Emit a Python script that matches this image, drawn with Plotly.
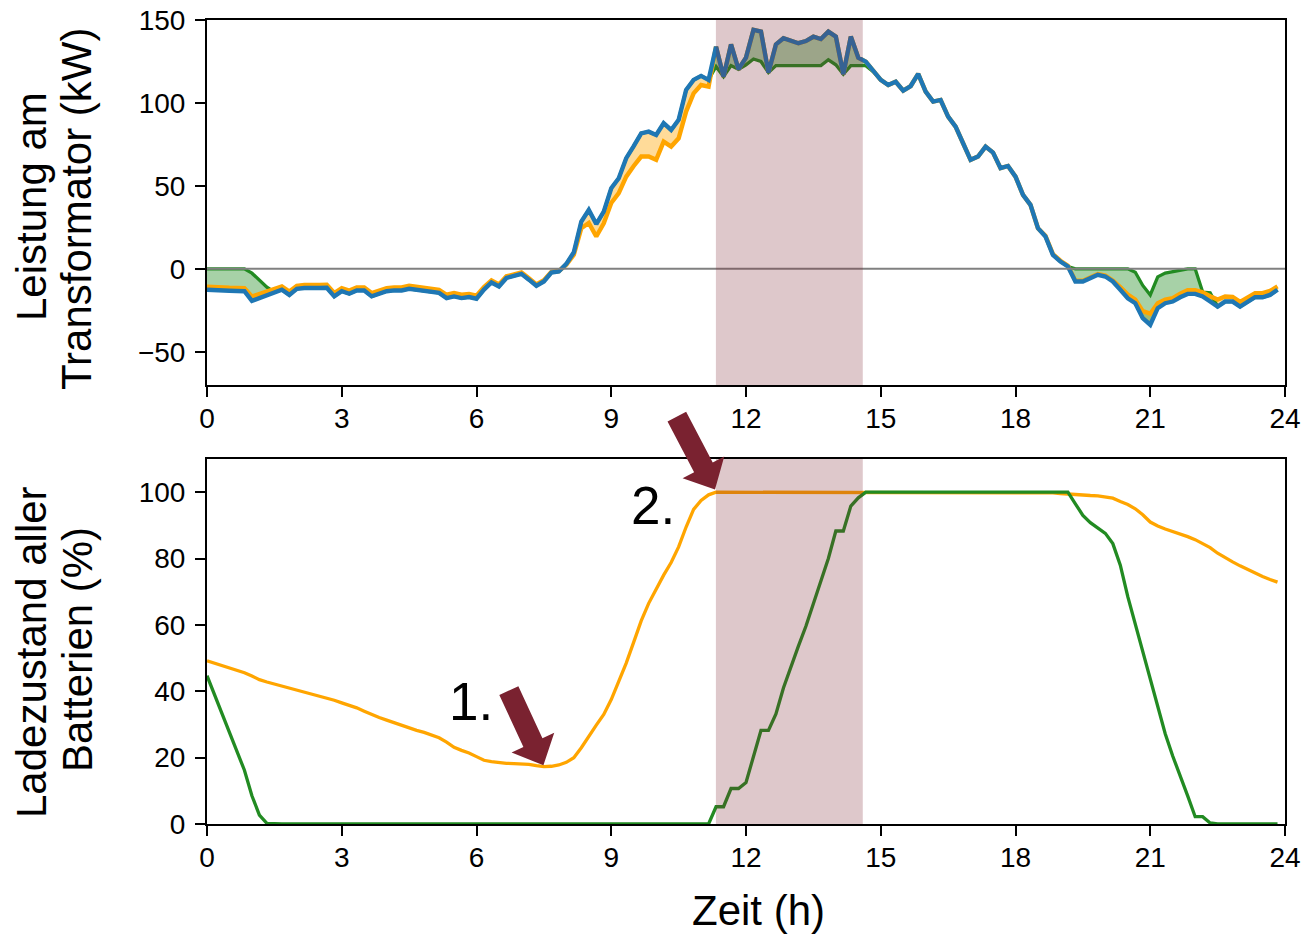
import math
import plotly.graph_objects as go

# ---------------- data (10-minute resolution) ----------------
time_h = [i / 6 for i in range(144)]

# Leistung am Transformator (kW)
p_ohne = [
    -12.6, -13.0, -13.0, -13.2, -13.3, -13.5, -19.3, -17.5, -15.8, -14.0,
    -12.6, -15.7, -12.0, -11.5, -11.2, -11.5, -11.4, -16.6, -13.5, -15.0,
    -13.0, -13.0, -16.6, -15.0, -13.5, -13.0, -13.0, -12.0, -12.5, -13.0,
    -14.0, -14.5, -17.6, -16.6, -17.6, -17.0, -18.0, -12.5, -8.2, -10.6,
    -5.5, -4.5, -3.0, -6.5, -10.2, -7.6, -2.2, -1.6, 3.0, 10.0,
    28.5, 35.5, 27.0, 34.5, 48.6, 54.6, 66.7, 74.0, 81.7, 82.7,
    80.7, 87.8, 83.7, 89.8, 107.8, 113.9, 116.3, 113.9, 133.9, 115.8,
    135.3, 120.3, 127.3, 144.0, 143.0, 118.3, 135.3, 139.0, 137.3, 136.0,
    137.3, 139.9, 138.5, 143.0, 140.0, 117.3, 140.0, 127.3, 124.9, 118.9,
    113.9, 110.8, 112.8, 107.4, 110.2, 117.5, 106.8, 100.8, 101.8, 91.8,
    85.7, 75.7, 65.7, 67.7, 73.7, 70.1, 60.7, 62.0, 55.6, 44.6,
    38.6, 24.5, 19.5, 8.4, 4.4, 1.4, -7.6, -7.6, -5.6, -3.6,
    -4.6, -7.6, -12.6, -17.7, -20.7, -29.7, -33.7, -23.7, -20.7, -19.7,
    -17.1, -15.1, -15.1, -16.6, -19.7, -22.7, -19.7, -19.7, -22.7, -19.7,
    -17.1, -17.1, -15.7, -12.6,
]

p_orange = [
    -10.8, -11.2, -11.2, -11.4, -11.5, -11.7, -16.7, -15.2, -13.6, -12.0,
    -10.6, -13.7, -10.2, -9.7, -9.4, -9.7, -9.6, -14.6, -11.6, -13.1,
    -11.2, -11.2, -14.6, -13.1, -11.6, -11.2, -11.2, -10.2, -10.7, -11.2,
    -12.1, -12.6, -15.6, -14.6, -15.6, -15.2, -16.2, -11.0, -7.0, -9.4,
    -4.5, -3.5, -2.2, -5.7, -9.4, -6.8, -1.8, -1.3, 2.5, 8.5,
    24.5, 27.7, 19.5, 27.5, 39.7, 45.6, 55.6, 62.0, 67.7, 67.7,
    65.7, 76.7, 73.7, 78.7, 94.8, 105.8, 110.8, 109.8, 133.9, 115.8,
    135.3, 120.3, 127.3, 144.0, 143.0, 118.3, 135.3, 139.0, 137.3, 136.0,
    137.3, 139.9, 138.5, 143.0, 140.0, 117.3, 140.0, 127.3, 124.9, 118.9,
    113.9, 110.8, 112.8, 107.4, 110.2, 117.5, 106.8, 100.8, 101.8, 91.8,
    85.7, 75.7, 65.7, 67.7, 73.7, 70.1, 60.7, 62.0, 55.6, 44.6,
    38.6, 24.5, 20.0, 8.9, 4.9, 1.9, -7.1, -7.1, -5.1, -3.1,
    -4.1, -7.0, -11.0, -15.5, -18.5, -25.5, -27.0, -20.7, -18.5, -17.7,
    -15.0, -12.8, -12.8, -14.2, -16.5, -18.5, -16.7, -16.9, -19.9, -17.0,
    -14.6, -14.6, -13.3, -10.6,
]

p_green = [
    0.0, 0.0, 0.0, 0.0, 0.0, 0.0, -2.6, -6.6, -11.0, -14.0,
    -12.6, -15.7, -12.0, -11.5, -11.2, -11.5, -11.4, -16.6, -13.5, -15.0,
    -13.0, -13.0, -16.6, -15.0, -13.5, -13.0, -13.0, -12.0, -12.5, -13.0,
    -14.0, -14.5, -17.6, -16.6, -17.6, -17.0, -18.0, -12.5, -8.2, -10.6,
    -5.5, -4.5, -3.0, -6.5, -10.2, -7.6, -2.2, -1.6, 3.0, 10.0,
    28.5, 35.5, 27.0, 34.5, 48.6, 54.6, 66.7, 74.0, 81.7, 82.7,
    80.7, 87.8, 83.7, 89.8, 107.8, 113.9, 116.3, 113.9, 122.0, 115.8,
    122.5, 120.3, 123.0, 126.5, 125.0, 118.3, 122.5, 122.5, 122.5, 122.5,
    122.5, 122.5, 122.5, 126.0, 123.0, 117.3, 122.5, 122.5, 122.5, 118.9,
    113.9, 110.8, 112.8, 107.4, 110.2, 117.5, 106.8, 100.8, 101.8, 91.8,
    85.7, 75.7, 65.7, 67.7, 73.7, 70.1, 60.7, 62.0, 55.6, 44.6,
    38.6, 24.5, 19.5, 8.4, 4.4, 1.4, 0.0, 0.0, 0.0, 0.0,
    0.0, 0.0, 0.0, 0.0, -2.0, -10.0, -15.7, -4.8, -2.5, -1.5,
    -0.5, 0.0, 0.0, -14.0, -14.5, -22.7, -19.7, -19.7, -22.7, -19.7,
    -17.1, -17.1, -15.7, -12.6,
]

# Ladezustand aller Batterien (%)
soc_orange = [
    49.2, 48.5, 47.9, 47.2, 46.5, 45.6, 44.6, 43.5, 42.8, 42.2,
    41.6, 41.0, 40.4, 39.8, 39.2, 38.5, 37.9, 37.3, 36.5, 35.8,
    35.0, 34.0, 33.0, 32.1, 31.3, 30.5, 29.6, 28.9, 28.2, 27.6,
    26.9, 26.0, 24.7, 23.1, 22.2, 21.4, 20.3, 19.2, 18.8, 18.5,
    18.3, 18.2, 18.2, 18.0, 17.6, 17.3, 17.4, 17.8, 18.6, 20.0,
    23.0, 26.5, 29.8, 33.0, 37.5, 43.0, 48.5, 54.8, 61.2, 66.5,
    71.0, 75.0, 78.8, 83.5, 89.5, 94.8, 97.5, 99.2, 100, 100,
    100, 100, 100, 100, 100, 100, 100, 100, 100, 100,
    100, 100, 100, 100, 100, 100, 100, 100, 100, 100,
    100, 100, 100, 100, 100, 100, 100, 100, 100, 100,
    100, 100, 100, 100, 100, 100, 100, 100, 100, 100,
    100, 100, 100, 99.8, 99.6, 99.4, 99.2, 99.1, 99.0, 98.9,
    98.6, 98.2, 97.2, 96.3, 95.0, 93.2, 91.0, 89.8, 88.9, 88.2,
    87.4, 86.6, 85.7, 84.6, 83.3, 81.6, 80.2, 79.0, 77.8, 76.7,
    75.6, 74.6, 73.7, 72.9,
]

soc_green = [
    44.7, 39.0, 33.5, 27.8, 22.0, 16.2, 8.5, 2.7, 0.2, 0,
    0, 0, 0, 0, 0, 0, 0, 0, 0, 0,
    0, 0, 0, 0, 0, 0, 0, 0, 0, 0,
    0, 0, 0, 0, 0, 0, 0, 0, 0, 0,
    0, 0, 0, 0, 0, 0, 0, 0, 0, 0,
    0, 0, 0, 0, 0, 0, 0, 0, 0, 0,
    0, 0, 0, 0, 0, 0, 0, 0, 5.2, 5.2,
    10.7, 10.7, 12.5, 20.5, 28.2, 28.2, 33.2, 41.0, 47.5, 53.6,
    59.6, 66.5, 73.2, 80.0, 88.3, 88.3, 95.8, 98.3, 100, 100,
    100, 100, 100, 100, 100, 100, 100, 100, 100, 100,
    100, 100, 100, 100, 100, 100, 100, 100, 100, 100,
    100, 100, 100, 100, 100, 100, 96.5, 93.0, 90.8, 89.2,
    87.6, 84.5, 78.0, 68.5, 60.2, 52.0, 44.0, 35.5, 27.2, 20.5,
    14.7, 8.5, 2.2, 2.2, 0.3, 0, 0, 0, 0, 0,
    0, 0, 0, 0,
]

x_ticks = [0, 3, 6, 9, 12, 15, 18, 21, 24]
y1_ticks = [-50, 0, 50, 100, 150]
y2_ticks = [0, 20, 40, 60, 80, 100]
window_h = [11.33, 14.6]

# annotation arrows on the lower axes: label, label position, tail, tip (data units)
arrow_labels = ["1.", "2."]
arrow_label_pos = [(5.88, 36.9), (9.94, 96.1)]
arrow_tails = [(6.72, 40.2), (10.46, 122.8)]
arrow_tips = [(7.49, 17.7), (11.31, 100.8)]

# ---------------- style / layout ----------------
W, H = 1306, 937
ML, MR, MT, MB = 207, 21, 20, 113
PW, PH = W - ML - MR, H - MT - MB
TOP_DOM = [(PH - 365) / PH, 1.0]
BOT_DOM = [0.0, 365 / PH]
X_RANGE = [0, 24]
Y1_RANGE = [-70, 150]
Y2_RANGE = [0, 110]

FONT = "Liberation Sans, Arial, Helvetica, sans-serif"
C_BLUE = "#1f77b4"
C_ORANGE = "rgb(255,165,0)"
C_GREEN = "rgb(34,139,34)"
C_ARROW = "rgb(122,34,48)"
C_SHADE = "rgba(122,34,48,0.25)"

fig = go.Figure()

# fills (orange between orange & blue, green between green & blue)
fig.add_trace(go.Scatter(x=time_h, y=p_ohne, mode="lines", line=dict(width=0),
                         hoverinfo="skip", showlegend=False, xaxis="x", yaxis="y"))
fig.add_trace(go.Scatter(x=time_h, y=p_orange, mode="lines", line=dict(width=0),
                         fill="tonexty", fillcolor="rgba(255,165,0,0.4)",
                         hoverinfo="skip", showlegend=False, xaxis="x", yaxis="y"))
fig.add_trace(go.Scatter(x=time_h, y=p_ohne, mode="lines", line=dict(width=0),
                         hoverinfo="skip", showlegend=False, xaxis="x", yaxis="y"))
fig.add_trace(go.Scatter(x=time_h, y=p_green, mode="lines", line=dict(width=0),
                         fill="tonexty", fillcolor="rgba(34,139,34,0.4)",
                         hoverinfo="skip", showlegend=False, xaxis="x", yaxis="y"))
# lines
fig.add_trace(go.Scatter(x=time_h, y=p_green, mode="lines", line=dict(color=C_GREEN, width=3.3),
                         showlegend=False, xaxis="x", yaxis="y"))
fig.add_trace(go.Scatter(x=time_h, y=p_orange, mode="lines", line=dict(color=C_ORANGE, width=4.4),
                         showlegend=False, xaxis="x", yaxis="y"))
fig.add_trace(go.Scatter(x=time_h, y=p_ohne, mode="lines", line=dict(color=C_BLUE, width=4.4),
                         showlegend=False, xaxis="x", yaxis="y"))

fig.add_trace(go.Scatter(x=time_h, y=soc_orange, mode="lines", line=dict(color=C_ORANGE, width=3.3),
                         showlegend=False, xaxis="x2", yaxis="y2"))
fig.add_trace(go.Scatter(x=time_h, y=soc_green, mode="lines", line=dict(color=C_GREEN, width=3.3),
                         showlegend=False, xaxis="x2", yaxis="y2"))

axis_common = dict(
    showline=True, linecolor="black", linewidth=2, mirror=True,
    ticks="outside", ticklen=10, tickwidth=2, tickcolor="black",
    showgrid=False, zeroline=False, automargin=False,
    tickfont=dict(family=FONT, size=28, color="black"),
)

fig.update_layout(
    width=W, height=H,
    margin=dict(l=ML, r=MR, t=MT, b=MB, autoexpand=False),
    paper_bgcolor="white", plot_bgcolor="white",
    font=dict(family=FONT, color="black"),
    showlegend=False,
    xaxis=dict(domain=[0, 1], anchor="y", range=X_RANGE, tickvals=x_ticks,
               ticklabelstandoff=-3, **axis_common),
    yaxis=dict(domain=TOP_DOM, anchor="x", range=Y1_RANGE, tickvals=y1_ticks,
               ticklabelstandoff=4, **axis_common),
    xaxis2=dict(domain=[0, 1], anchor="y2", range=X_RANGE, tickvals=x_ticks,
                ticklabelstandoff=-3, layer="below traces", **axis_common),
    yaxis2=dict(domain=BOT_DOM, anchor="x2", range=Y2_RANGE, tickvals=y2_ticks,
                ticklabelstandoff=4, layer="below traces", **axis_common),
)

shapes = [
    dict(type="line", xref="x domain", yref="y", x0=0, x1=1, y0=0, y1=0,
         line=dict(color="gray", width=2), layer="above"),
    dict(type="rect", xref="x", yref="y domain", x0=window_h[0], x1=window_h[1], y0=0, y1=1,
         fillcolor=C_SHADE, line=dict(width=0), layer="above"),
    dict(type="rect", xref="x2", yref="y2 domain", x0=window_h[0], x1=window_h[1], y0=0, y1=1,
         fillcolor=C_SHADE, line=dict(width=0), layer="above"),
]

# filled block arrows, built in pixel space and placed in paper coordinates
px_x = PW / (X_RANGE[1] - X_RANGE[0])
px_y2 = (BOT_DOM[1] - BOT_DOM[0]) * PH / (Y2_RANGE[1] - Y2_RANGE[0])
SHAFT_W, HEAD_W, HEAD_L = 21, 47, 25


def to_px(pt):
    return ((pt[0] - X_RANGE[0]) * px_x, BOT_DOM[0] * PH + (pt[1] - Y2_RANGE[0]) * px_y2)


for tail, tip in zip(arrow_tails, arrow_tips):
    tx, ty = to_px(tail)
    hx, hy = to_px(tip)
    L = math.hypot(hx - tx, hy - ty)
    dx, dy = (hx - tx) / L, (hy - ty) / L
    nx, ny = -dy, dx
    bx, by = hx - dx * HEAD_L, hy - dy * HEAD_L
    pts = [
        (tx + nx * SHAFT_W / 2, ty + ny * SHAFT_W / 2),
        (bx + nx * SHAFT_W / 2, by + ny * SHAFT_W / 2),
        (bx + nx * HEAD_W / 2, by + ny * HEAD_W / 2),
        (hx, hy),
        (bx - nx * HEAD_W / 2, by - ny * HEAD_W / 2),
        (bx - nx * SHAFT_W / 2, by - ny * SHAFT_W / 2),
        (tx - nx * SHAFT_W / 2, ty - ny * SHAFT_W / 2),
    ]
    path = "M " + " L ".join(f"{px / PW:.5f},{py / PH:.5f}" for px, py in pts) + " Z"
    shapes.append(dict(type="path", xref="paper", yref="paper", path=path,
                       fillcolor=C_ARROW, line=dict(width=0), layer="above"))

fig.update_layout(shapes=shapes)


def px_to_paper_x(px):
    return (px - ML) / PW


def px_to_paper_y(py):
    return (H - MB - py) / PH


annotations = []
# y titles (two lines each)
for text, cx, cy in [
    ("Leistung am", 31, 207), ("Transformator (kW)", 77, 209),
    ("Ladezustand aller", 31, 652), ("Batterien (%)", 77, 650),
]:
    annotations.append(dict(text=text, x=px_to_paper_x(cx), y=px_to_paper_y(cy),
                            xref="paper", yref="paper", xanchor="center", yanchor="middle",
                            textangle=-90, showarrow=False,
                            font=dict(family=FONT, size=42, color="black")))
annotations.append(dict(text="Zeit (h)", x=px_to_paper_x(758), y=px_to_paper_y(911),
                        xref="paper", yref="paper", xanchor="center", yanchor="middle",
                        showarrow=False, font=dict(family=FONT, size=42, color="black")))
for lab, (lx, ly) in zip(arrow_labels, arrow_label_pos):
    annotations.append(dict(text=lab, x=lx, y=ly, xref="x2", yref="y2",
                            xanchor="center", yanchor="middle", showarrow=False,
                            font=dict(family=FONT, size=53, color="black")))
fig.update_layout(annotations=annotations)

fig.write_html("out.html", config={"displayModeBar": False},
               post_script="document.body.style.margin='0px';")
